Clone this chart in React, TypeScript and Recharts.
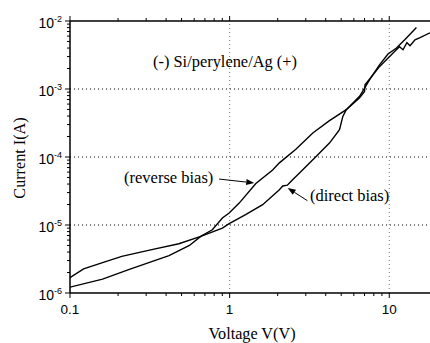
import { LineChart, Line, XAxis, YAxis, ReferenceLine } from "recharts";

// reverse bias branch
const reverseV = [0.1, 0.16, 0.233, 0.417, 0.56, 0.659, 0.779, 0.901, 0.993, 1.148, 1.46, 1.86, 2.05, 2.6, 3.32, 4.2, 5.38, 6.52, 7.54, 8.71, 9.82, 11.1, 12.5, 13.4, 14.8];
const reverseI = [1.22e-6, 1.6e-6, 2.2e-6, 3.54e-6, 5.0e-6, 6.8e-6, 8.5e-6, 1.27e-5, 1.5e-5, 2.1e-5, 4.08e-5, 6.44e-5, 8.2e-5, 1.3e-4, 2.25e-4, 3.4e-4, 4.97e-4, 7.8e-4, 1.37e-3, 2.28e-3, 3.27e-3, 4.0e-3, 5.3e-3, 6.3e-3, 8.05e-3];

// direct bias branch
const directV = [0.1, 0.1216, 0.16, 0.211, 0.32, 0.481, 0.659, 0.901, 0.993, 1.26, 1.61, 2.05, 2.15, 2.3, 2.37, 2.48, 2.74, 3.48, 4.22, 4.88, 5.12, 5.38, 6.52, 7.0, 7.05, 8.71, 10.8, 11.6, 12.2, 12.9, 13.5, 14.5, 15.6, 18.0];
const directI = [1.68e-6, 2.27e-6, 2.8e-6, 3.45e-6, 4.3e-6, 5.3e-6, 6.8e-6, 9.0e-6, 1.05e-5, 1.42e-5, 1.99e-5, 3.31e-5, 3.75e-5, 3.85e-5, 4.15e-5, 4.63e-5, 5.82e-5, 1.02e-4, 1.6e-4, 2.52e-4, 3.95e-4, 4.97e-4, 7.4e-4, 9.2e-4, 1.15e-3, 2.15e-3, 3.57e-3, 4.19e-3, 3.78e-3, 4.8e-3, 4.33e-3, 5.3e-3, 5.7e-3, 6.7e-3];

const xMajor = [0.1, 1, 10];
const xMinor = [0.2, 0.3, 0.4, 0.5, 0.6, 0.7, 0.8, 0.9, 2, 3, 4, 5, 6, 7, 8, 9];
const yMajor = [1e-6, 1e-5, 1e-4, 1e-3, 1e-2];
const yExp = ["-6", "-5", "-4", "-3", "-2"];
const yMinorMult = [2, 3, 4, 5, 6, 7, 8, 9];

const reverseData = reverseV.map((v, i) => ({ v, i: reverseI[i] }));
const directData = directV.map((v, i) => ({ v, i: directI[i] }));

const xTicks = [...xMajor, ...xMinor].sort((a, b) => a - b);
const yTicks = [
  ...yMajor,
  ...yMajor.slice(0, 4).flatMap((d) => yMinorMult.map((m) => m * d)),
].sort((a, b) => a - b);

const sans = "'Liberation Sans', Arial, sans-serif";
const serif = "'Liberation Serif', 'Times New Roman', serif";

const isMajorX = (val: number) => xMajor.some((m) => Math.abs(m - val) < 1e-9);
const isMajorY = (val: number) => yMajor.some((m) => Math.abs(m - val) / m < 1e-6);

function BottomTick(props: any) {
  const { x, y, payload } = props;
  const major = isMajorX(payload.value);
  return (
    <g>
      <line x1={x} x2={x} y1={y} y2={y + (major ? 5 : 3)} stroke="#000" strokeWidth={1} />
      {major && (
        <text x={x} y={y + 21} textAnchor="middle" fontFamily={sans} fontSize={13.5} fill="#000">
          {payload.value}
        </text>
      )}
    </g>
  );
}

function TopTick(props: any) {
  const { x, y, payload } = props;
  const major = isMajorX(payload.value);
  return <line x1={x} x2={x} y1={y} y2={y - (major ? 5 : 3)} stroke="#000" strokeWidth={1} />;
}

function LeftTick(props: any) {
  const { x, y, payload } = props;
  const idx = yMajor.findIndex((m) => Math.abs(m - payload.value) / m < 1e-6);
  const major = isMajorY(payload.value);
  return (
    <g>
      <line x1={x} x2={x - (major ? 5 : 3)} y1={y} y2={y} stroke="#000" strokeWidth={1} />
      {major && (
        <text x={x - 8} y={y + 7} textAnchor="end" fontFamily={sans} fontSize={14} fill="#000">
          10
          <tspan dy={-6} fontSize={9}>
            {yExp[idx]}
          </tspan>
        </text>
      )}
    </g>
  );
}

function Arrow(props: any) {
  const { x1, y1, x2, y2 } = props;
  if (x1 == null) return null;
  const ang = Math.atan2(y2 - y1, x2 - x1);
  const len = 8;
  const w = 3;
  const bx = x2 - len * Math.cos(ang);
  const by = y2 - len * Math.sin(ang);
  const px = -Math.sin(ang) * w;
  const py = Math.cos(ang) * w;
  return (
    <g>
      <line x1={x1} y1={y1} x2={bx} y2={by} stroke="#000" strokeWidth={1} />
      <polygon points={`${x2},${y2} ${bx + px},${by + py} ${bx - px},${by - py}`} fill="#000" />
    </g>
  );
}

export default function App() {
  return (
    <div style={{ position: "absolute", left: 0, top: 0, width: 430, height: 343, background: "#fff" }}>
      <LineChart width={430} height={343} margin={{ top: 0, right: 0, bottom: 0, left: 0 }}>
        <XAxis
          dataKey="v"
          type="number"
          scale="log"
          domain={[0.1, 18]}
          allowDataOverflow
          ticks={xTicks}
          interval={0}
          tick={<BottomTick />}
          tickLine={false}
          tickSize={0}
          tickMargin={0}
          height={50}
          axisLine={{ stroke: "#000", strokeWidth: 1.5 }}
        />
        <XAxis
          xAxisId="top"
          orientation="top"
          dataKey="v"
          type="number"
          scale="log"
          domain={[0.1, 18]}
          allowDataOverflow
          ticks={xTicks}
          interval={0}
          tick={<TopTick />}
          tickLine={false}
          tickSize={0}
          tickMargin={0}
          height={21}
          axisLine={{ stroke: "#000", strokeWidth: 1.5 }}
        />
        <YAxis
          dataKey="i"
          type="number"
          scale="log"
          domain={[1e-6, 1e-2]}
          allowDataOverflow
          ticks={yTicks}
          interval={0}
          tick={<LeftTick />}
          tickLine={false}
          tickSize={0}
          tickMargin={0}
          width={70}
          axisLine={{ stroke: "#000", strokeWidth: 1.5 }}
        />
        {[1, 10].map((v) => (
          <ReferenceLine key={"vx" + v} x={v} stroke="#777" strokeDasharray="1 3" strokeWidth={1} />
        ))}
        {[1e-3, 1e-4, 1e-5].map((v) => (
          <ReferenceLine key={"hy" + v} y={v} stroke="#000" strokeDasharray="1 3" strokeWidth={1} />
        ))}
        <ReferenceLine
          segment={[{ x: 0.859, y: 4.74e-5 }, { x: 1.426, y: 4.15e-5 }]}
          shape={<Arrow />}
        />
        <ReferenceLine
          segment={[{ x: 3.07, y: 2.28e-5 }, { x: 2.31, y: 3.5e-5 }]}
          shape={<Arrow />}
        />
        <Line data={reverseData} dataKey="i" type="linear" stroke="#000" strokeWidth={1.4} dot={false} isAnimationActive={false} />
        <Line data={directData} dataKey="i" type="linear" stroke="#000" strokeWidth={1.4} dot={false} isAnimationActive={false} />
      </LineChart>
      <svg width={430} height={343} style={{ position: "absolute", left: 0, top: 0, pointerEvents: "none" }}>
        <text x={225} y={67} textAnchor="middle" fontFamily={serif} fontSize={16.4} fill="#000">
          (-) Si/perylene/Ag (+)
        </text>
        <text x={124} y={183} fontFamily={serif} fontSize={16.5} fill="#000">
          (reverse bias)
        </text>
        <text x={310} y={201} fontFamily={serif} fontSize={16.5} fill="#000">
          (direct bias)
        </text>
        <text x={252} y={339} textAnchor="middle" fontFamily={serif} fontSize={16.2} fill="#000">
          Voltage V(V)
        </text>
        <text
          x={0}
          y={0}
          transform="translate(25,158) rotate(-90)"
          textAnchor="middle"
          fontFamily={serif}
          fontSize={16.2}
          fill="#000"
        >
          Current I(A)
        </text>
      </svg>
    </div>
  );
}
